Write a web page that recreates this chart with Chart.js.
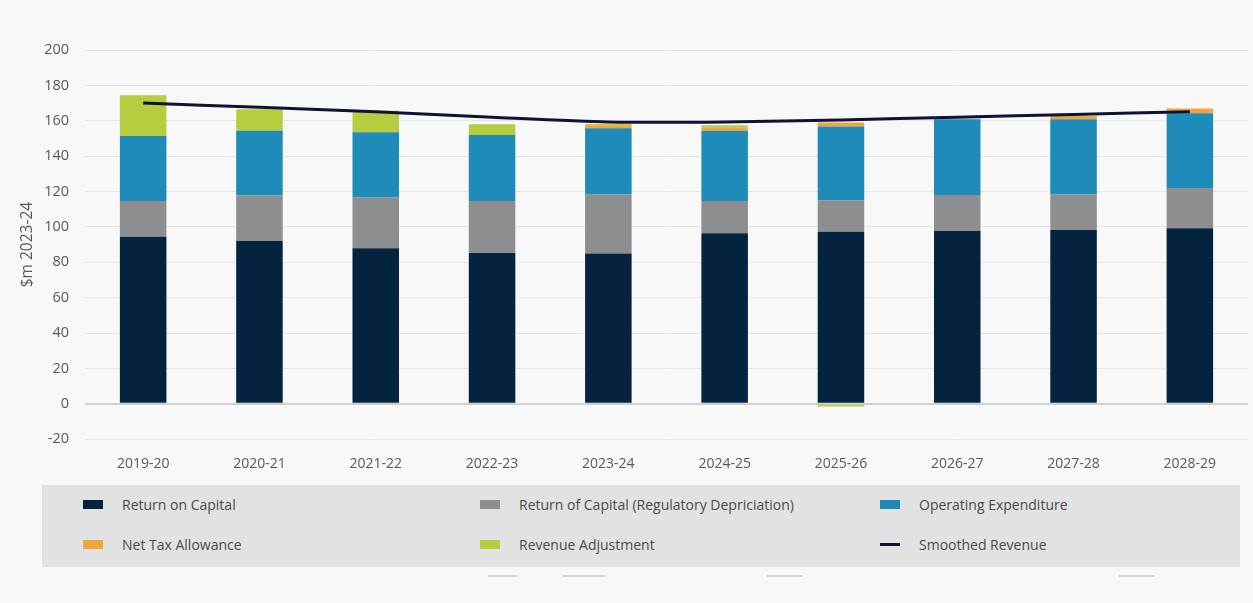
<!DOCTYPE html>
<html>
<head>
<meta charset="utf-8">
<script src="https://cdn.jsdelivr.net/npm/chart.js@4.4.1/dist/chart.umd.min.js"></script>
<style>
  html, body { margin: 0; padding: 0; background: #f8f8f8; width: 1253px; height: 603px; overflow: hidden; font-family: "Open Sans", "Liberation Sans", sans-serif; }
  #wrap { position: absolute; left: 0; top: 0; width: 1253px; height: 480px; }
  #legend { position: absolute; left: 42px; top: 485px; width: 1198px; height: 82px; background: #e2e2e2; }
  .item { position: absolute; display: flex; align-items: center; font-size: 14px; color: #4a4a4a; white-space: nowrap; }
  .sw { width: 20px; height: 9px; margin-right: 19px; }
  .ln { width: 20px; height: 3px; margin-right: 19px; }
  .dash { position: absolute; top: 575px; height: 2px; background: #d4d4d4; }
</style>
</head>
<body>
<div id="wrap"><canvas id="c"></canvas></div>
<div id="legend"></div>
<div class="dash" style="left:488px;width:30px"></div>
<div class="dash" style="left:563px;width:43px"></div>
<div class="dash" style="left:767px;width:36px"></div>
<div class="dash" style="left:1119px;width:36px"></div>
<script>
const categories = ["2019-20","2020-21","2021-22","2022-23","2023-24","2024-25","2025-26","2026-27","2027-28","2028-29"];
const returnOnCapital = [94.5, 92.0, 88.0, 85.3, 85.0, 96.4, 97.3, 97.7, 98.3, 99.2];
const returnOfCapital = [20.2, 25.7, 28.6, 29.4, 33.4, 18.3, 17.8, 20.3, 20.1, 22.8];
const operatingExpenditure = [36.7, 36.7, 36.9, 37.3, 37.3, 39.7, 41.6, 42.8, 42.4, 42.2];
const netTaxAllowance = [0, 0, 0, 0, 1.8, 2.0, 2.3, 0.4, 1.9, 2.8];
const revenueAdjustment = [23.0, 12.1, 12.2, 6.0, 0.6, 1.0, -1.5, 0, 0, 0];
const smoothedRevenue = [170.0, 167.6, 165.1, 162.0, 159.3, 159.3, 160.5, 162.0, 163.6, 165.1];
const yTicks = { min: -20, max: 200, step: 20 };

const colors = {
  roc: "#03233f", dep: "#8c8e90", opex: "#1f8bb9", tax: "#f0a53d", adj: "#b6cd3f", line: "#0f1236"
};

const barCommon = { stack: "s", barPercentage: 0.4, categoryPercentage: 1.0, borderWidth: 0 };
const chart = new Chart(document.getElementById("c"), {
  type: "bar",
  data: {
    labels: categories,
    datasets: [
      { type: "line", label: "Smoothed Revenue", data: smoothedRevenue, borderColor: colors.line, backgroundColor: colors.line, borderWidth: 3, pointRadius: 0, tension: 0.25, order: 0 },
      Object.assign({ label: "Return on Capital", data: returnOnCapital, backgroundColor: colors.roc, order: 1 }, barCommon),
      Object.assign({ label: "Return of Capital (Regulatory Depriciation)", data: returnOfCapital, backgroundColor: colors.dep, order: 1 }, barCommon),
      Object.assign({ label: "Operating Expenditure", data: operatingExpenditure, backgroundColor: colors.opex, order: 1 }, barCommon),
      Object.assign({ label: "Net Tax Allowance", data: netTaxAllowance, backgroundColor: colors.tax, order: 1 }, barCommon),
      Object.assign({ label: "Revenue Adjustment", data: revenueAdjustment, backgroundColor: colors.adj, order: 1 }, barCommon)
    ]
  },
  options: {
    responsive: true,
    maintainAspectRatio: false,
    animation: false,
    layout: { padding: { top: 50, right: 5, left: 17, bottom: 0 } },
    plugins: { legend: { display: false }, tooltip: { enabled: false } },
    scales: {
      x: {
        stacked: true,
        grid: { display: false },
        border: { display: false },
        ticks: { color: "#595959", font: { size: 14, family: "'Open Sans', sans-serif" }, padding: 8 }
      },
      y: {
        stacked: true,
        min: yTicks.min, max: yTicks.max,
        afterFit: (scale) => { scale.width = 68; },
        ticks: { stepSize: yTicks.step, color: "#595959", font: { size: 14.5, family: "'Open Sans', sans-serif" }, padding: 16 },
        grid: { color: (ctx) => ctx.tick && ctx.tick.value === 0 ? "#cfcfcf" : "#e6e6e6", lineWidth: (ctx) => ctx.tick && ctx.tick.value === 0 ? 2 : 1, drawTicks: false },
        border: { display: false },
        title: { display: true, text: "$m 2023-24", color: "#595959", font: { size: 15.5, family: "'Open Sans', sans-serif" }, padding: 1 }
      }
    }
  }
});

const legendItems = [
  { label: "Return on Capital", color: colors.roc, x: 41, y: 20 },
  { label: "Return of Capital (Regulatory Depriciation)", color: colors.dep, x: 438, y: 20 },
  { label: "Operating Expenditure", color: colors.opex, x: 838, y: 20 },
  { label: "Net Tax Allowance", color: colors.tax, x: 41, y: 60 },
  { label: "Revenue Adjustment", color: colors.adj, x: 438, y: 60 },
  { label: "Smoothed Revenue", color: colors.line, x: 838, y: 60, line: true }
];
const lg = document.getElementById("legend");
legendItems.forEach(it => {
  const d = document.createElement("div");
  d.className = "item";
  d.style.left = it.x + "px";
  d.style.top = (it.y - 10) + "px";
  const s = document.createElement("span");
  s.className = it.line ? "ln" : "sw";
  s.style.background = it.color;
  d.appendChild(s);
  d.appendChild(document.createTextNode(it.label));
  lg.appendChild(d);
});
</script>
</body>
</html>
